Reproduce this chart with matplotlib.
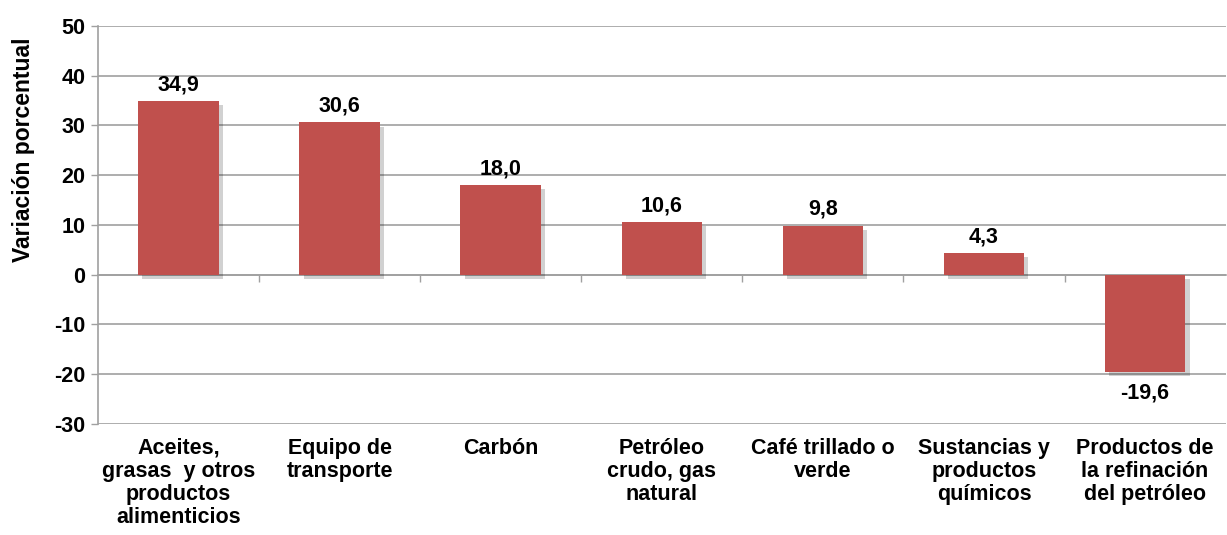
import matplotlib.pyplot as plt
import matplotlib.patheffects as pe
import matplotlib.transforms as mtransforms
import numpy as np

plt.rcParams["font.family"] = ["Liberation Sans", "DejaVu Sans"]

categories = [
    "Aceites,\ngrasas  y otros\nproductos\nalimenticios",
    "Equipo de\ntransporte",
    "Carbón",
    "Petróleo\ncrudo, gas\nnatural",
    "Café trillado o\nverde",
    "Sustancias y\nproductos\nquímicos",
    "Productos de\nla refinación\ndel petróleo",
]
values = [34.9, 30.6, 18.0, 10.6, 9.8, 4.3, -19.6]
y_ticks = [-30, -20, -10, 0, 10, 20, 30, 40, 50]

bar_color = "#C0504D"
grid_color = "#A0A0A0"
fs = 15.5

fig = plt.figure(figsize=(12.27, 5.35), dpi=100)
ax = fig.add_axes([0.0799, 0.2075, 0.919, 0.744])

x = np.arange(len(categories))
bars = ax.bar(x, values, width=0.5, color=bar_color, zorder=3)
for b in bars:
    b.set_path_effects([pe.SimplePatchShadow(offset=(3, -3), shadow_rgbFace="black", alpha=0.18), pe.Normal()])

ax.set_xlim(-0.5, len(categories) - 0.5)
ax.set_ylim(-30, 50)
ax.set_yticks(y_ticks)
ax.set_yticklabels([str(t) for t in y_ticks], fontsize=fs, fontweight="bold")
ax.tick_params(axis="y", length=5, color=grid_color, width=1, pad=4)
ax.yaxis.grid(True, color=grid_color, linewidth=1.2, zorder=0)
ax.set_axisbelow(True)
ax.set_ylabel("Variación porcentual", fontsize=16.5, fontweight="bold")
ax.yaxis.set_label_coords(-0.056, 0.688)

# category axis sits on zero, with ticks between categories
for s in ["top", "right"]:
    ax.spines[s].set_visible(False)
ax.spines["left"].set_color(grid_color)
ax.spines["left"].set_linewidth(1.2)
ax.spines["bottom"].set_position(("data", 0))
ax.spines["bottom"].set_color(grid_color)
ax.spines["bottom"].set_linewidth(1.2)
ax.set_xticks(np.arange(len(categories) - 1) + 0.5)
ax.set_xticklabels([])
ax.tick_params(axis="x", length=5, color=grid_color, width=1, direction="out")

trans = mtransforms.blended_transform_factory(ax.transData, ax.transAxes)
for xi, name in zip(x, categories):
    ax.text(xi, -0.035, name, transform=trans, ha="center", va="top",
            fontsize=fs, fontweight="bold", linespacing=1.12)

for xi, v in zip(x, values):
    label = f"{v:.1f}".replace(".", ",")
    if v >= 0:
        ax.text(xi, v + 1.2, label, ha="center", va="bottom", fontsize=fs, fontweight="bold")
    else:
        ax.text(xi, v - 2.0, label, ha="center", va="top", fontsize=fs, fontweight="bold")

fig.savefig("out.png", dpi=100)
